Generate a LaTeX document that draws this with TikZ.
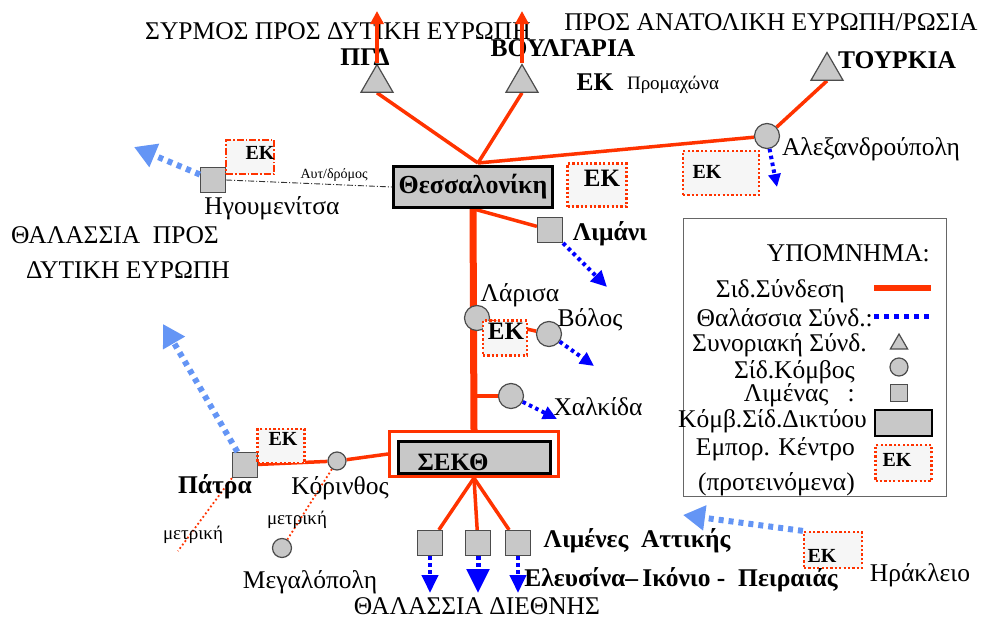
\documentclass[tikz,border=0pt]{standalone}
\usepackage{fontspec}
\setmainfont{Liberation Serif}
\usetikzlibrary{shapes.geometric}
\usetikzlibrary{arrows.meta}
\usetikzlibrary{backgrounds}
\definecolor{rail}{RGB}{255,51,0}
\definecolor{sea}{RGB}{0,0,255}
\definecolor{farsea}{RGB}{100,149,245}
\definecolor{nodegray}{RGB}{200,200,200}
\definecolor{ekfill}{RGB}{246,246,246}

\begin{document}
\begin{tikzpicture}[x=1pt, y=-1pt,
    lbl/.style={font=\fontsize{25.5}{29}\selectfont, inner sep=0pt},
    blbl/.style={font=\fontsize{25.5}{29}\selectfont\bfseries, inner sep=0pt},
    small/.style={font=\fontsize{19}{22}\selectfont, inner sep=0pt},
    ektxt/.style={font=\fontsize{20}{23}\selectfont\bfseries, inner sep=0pt},
    station/.style={draw=black!70, fill=nodegray, circle, minimum size=25pt, inner sep=0pt, line width=1.2pt},
    port/.style={draw=black!70, fill=nodegray, rectangle, minimum size=25pt, inner sep=0pt, line width=1.2pt},
    border/.style={draw=black!70, fill=nodegray, regular polygon, regular polygon sides=3, minimum size=37pt, inner sep=0pt, line width=1.2pt},
    ekbox/.style={draw=rail, fill=ekfill, line width=2.2pt, dash pattern=on 2.2pt off 2.2pt, inner sep=0pt},
    railway/.style={draw=rail, line width=3.5pt},
    trunk/.style={draw=rail, line width=7pt},
    railup/.style={draw=rail, line width=3.5pt, -{Triangle[length=13pt, width=13pt]}},
    seaway/.style={draw=sea, line width=4pt, dash pattern=on 3.5pt off 3.5pt, -{Triangle[length=16pt, width=15pt]}},
    farway/.style={draw=farsea, line width=6pt, dash pattern=on 5pt off 5pt, -{Triangle[length=22pt, width=24pt]}},
    metric/.style={draw=rail, line width=1.8pt, dash pattern=on 1.8pt off 2.5pt},
    motorway/.style={draw=black!80, line width=0.9pt, dash pattern=on 6pt off 2pt on 1pt off 2pt}]

\useasboundingbox (0,0) rectangle (983,621);

% headings
\node[lbl] (west) at (338,31) {ΣΥΡΜΟΣ ΠΡΟΣ ΔΥΤΙΚΗ ΕΥΡΩΠΗ};
\node[lbl] (east) at (771,22) {ΠΡΟΣ ΑΝΑΤΟΛΙΚΗ ΕΥΡΩΠΗ/ΡΩΣΙΑ};
\node[lbl] (seawest1) at (115,235) {ΘΑΛΑΣΣΙΑ\ \ ΠΡΟΣ};
\node[lbl] (seawest2) at (128,270) {ΔΥΤΙΚΗ ΕΥΡΩΠΗ};
\node[lbl] (seaint) at (477,606) {ΘΑΛΑΣΣΙΑ ΔΙΕΘΝΗΣ};

% border crossings
\node[border] (pgd) at (377,83) {};
\node[border] (boul) at (522,83) {};
\node[border] (turk) at (827,71) {};
\coordinate (pgdup) at (377,11);
\coordinate (boulup) at (522,11);
\node[blbl] (pgdlbl) at (365,57) {ΠΓΔ};
\node[blbl] (boullbl) at (563,48) {ΒΟΥΛΓΑΡΙΑ};
\node[blbl] (turklbl) at (897,60) {ΤΟΥΡΚΙΑ};
\node[blbl] (promek) at (595,82) {ΕΚ};
\node[small] (promlbl) at (673,85) {Προμαχώνα};

% Thessaloniki
\node[draw, line width=2.5pt, fill=nodegray, minimum width=159pt, minimum height=41pt, inner sep=0pt,
      font=\fontsize{26}{29}\selectfont\bfseries] (thess) at (473,187) {Θεσσαλονίκη};
\coordinate (hub) at (478,163);
\node[ekbox, minimum width=59pt, minimum height=43pt] (ekthess) at (597,185) {};
\node[font=\fontsize{25}{28}\selectfont\bfseries, inner sep=0pt] (ekthesstxt) at (602,178) {ΕΚ};

\node[station] (alex) at (767,136) {};
\node[lbl] (alexlbl) at (871,149) {Αλεξανδρούπολη};
\node[ekbox, minimum width=76pt, minimum height=44pt] (ekalex) at (721,173) {};
\node[ektxt] (ekalextxt) at (707,172) {ΕΚ};
\coordinate (alexsea) at (777,187);

\node[port] (igoum) at (213,180) {};
\node[lbl] (igoumlbl) at (272,208) {Ηγουμενίτσα};
\node[ekbox, dash pattern=on 7pt off 2pt on 1.5pt off 2pt, minimum width=48pt, minimum height=34pt] (ekigoum) at (250,157) {};
\node[ektxt] (ekigoumtxt) at (260,153) {ΕΚ};
\coordinate (igoumsea) at (134,147);

\node[port] (limani) at (550,230) {};
\node[blbl] (limanilbl) at (610,234) {Λιμάνι};
\coordinate (limanisea) at (607,287);

% central axis
\node[station] (larisa) at (477,318) {};
\node[lbl] (larisalbl) at (520,295) {Λάρισα};
\node[ekbox, minimum width=44pt, minimum height=35pt] (eklarisa) at (505,338) {};
\node[font=\fontsize{25}{28}\selectfont\bfseries, inner sep=0pt] (eklarisatxt) at (506,331) {ΕΚ};
\node[station] (volos) at (549,334) {};
\node[lbl] (voloslbl) at (590,320) {Βόλος};
\coordinate (volossea) at (594,366);
\node[station] (chalk) at (511,396) {};
\node[lbl] (chalklbl) at (598,407) {Χαλκίδα};
\coordinate (chalksea) at (557,419);

\node[draw=rail, line width=3pt, minimum width=169pt, minimum height=45pt, inner sep=0pt] (seko) at (474,454) {};
\node[draw, line width=3pt, fill=nodegray, minimum width=152pt, minimum height=32pt, inner sep=0pt] (sekoin) at (474.5,457.5) {};
\node[font=\fontsize{25}{29}\selectfont\bfseries, inner sep=0pt] (sekotxt) at (453,462) {ΣΕΚΘ};

% Peloponnese
\node[station, minimum size=18pt] (korinthos) at (337,461) {};
\node[lbl] (korinthoslbl) at (340,488) {Κόρινθος};
\node[port] (patra) at (245,465) {};
\node[blbl] (patralbl) at (215,487) {Πάτρα};
\node[ekbox, minimum width=47pt, minimum height=34pt] (ekpatra) at (281,446) {};
\node[ektxt] (ekpatratxt) at (283,439) {ΕΚ};
\coordinate (patrasea) at (163,324);
\coordinate (patrametric) at (178,551);
\node[station, minimum size=19pt] (megalo) at (282,548) {};
\node[lbl] (megalolbl) at (310,582) {Μεγαλόπολη};

% Attica ports
\node[port] (att1) at (430,543) {};
\node[port] (att2) at (478,543) {};
\node[port] (att3) at (518,543) {};
\coordinate (att1sea) at (430,593);
\coordinate (att2sea) at (478,593);
\coordinate (att3sea) at (518,593);
\node[blbl] (attlbl) at (637,541) {Λιμένες\ \ Αττικής};
\node[blbl] (attnames) at (681,580) {Ελευσίνα–\,Ικόνιο -\ \ Πειραιάς};

% Crete
\node[ekbox, minimum width=58pt, minimum height=36pt] (ekirak) at (833,550) {};
\node[ektxt] (ekiraktxt) at (822,556) {ΕΚ};
\node[lbl] (iraklbl) at (920,575) {Ηράκλειο};
\coordinate (iraksea) at (683,515);

% legend
\node[draw=black!60, line width=1.2pt, minimum width=263pt, minimum height=278pt, inner sep=0pt] (legend) at (815,357.5) {};
\node[lbl, anchor=east] (lgtitle) at (930,253) {ΥΠΟΜΝΗΜΑ:};
\node[lbl, anchor=east] (lgrailtxt) at (845,291) {Σιδ.Σύνδεση};
\node[lbl, anchor=east] (lgseatxt) at (873,318) {Θαλάσσια Σύνδ.:};
\node[lbl, anchor=east] (lgbordertxt) at (867,345) {Συνοριακή Σύνδ.};
\node[lbl, anchor=east] (lgstationtxt) at (855,372) {Σίδ.Κόμβος};
\node[lbl, anchor=east] (lgporttxt) at (855,395) {Λιμένας\ \ \ :};
\node[lbl, anchor=east] (lghubtxt) at (867,421) {Κόμβ.Σίδ.Δικτύου};
\node[lbl, anchor=east] (lgektxt) at (855,449) {Εμπορ. Κέντρο};
\node[lbl, anchor=east] (lgek2txt) at (855,484) {(προτεινόμενα)};
\coordinate (lgrail1) at (874,288);
\coordinate (lgrail2) at (931,288);
\coordinate (lgsea1) at (874,316);
\coordinate (lgsea2) at (931,316);
\node[border, minimum size=20pt] (lgborder) at (899,344) {};
\node[station, minimum size=18pt] (lgstation) at (899,367) {};
\node[port, minimum size=17pt] (lgport) at (899,393) {};
\node[draw, line width=2.5pt, fill=nodegray, minimum width=57pt, minimum height=26pt, inner sep=0pt] (lghub) at (903.5,423) {};
\node[ekbox, minimum width=56pt, minimum height=36pt] (lgek) at (903.5,463) {};
\node[ektxt] (lgektxt2) at (897,460) {ΕΚ};

\begin{scope}[on background layer]
  \draw[railway] (hub) -- (pgd.south);
  \draw[railway] (hub) -- (boul.south);
  \draw[railway] (hub) -- (alex);
  \draw[railway] (alex) -- (turk.south);
  \draw[trunk] (thess.south) -- (seko.north);
  \draw[railway] (thess.south) -- (limani);
  \draw[railway] (larisa) -- (volos);
  \draw[railway] (chalk) -- (chalk -| thess.south);
  \draw[railway] (seko.west) -- (korinthos) -- (patra);
  \draw[railway] (seko.south) -- (att1);
  \draw[railway] (seko.south) -- (att2);
  \draw[railway] (seko.south) -- (att3);
  \draw[metric] (patra.south west) -- (patrametric);
  \draw[metric] (korinthos) -- (megalo);
\end{scope}

\draw[railup] (pgd.north) -- (pgdup);
\draw[railup] (boul.north) -- (boulup);
\draw[motorway] (igoum.east) -- node[pos=0.65, above=3pt, font=\fontsize{14}{16}\selectfont, inner sep=0pt] (motorlbl) {Αυτ/δρόμος} (thess.west);

\draw[seaway] (limani) -- (limanisea);
\draw[seaway, -{Triangle[length=14pt, width=13pt]}] (volos) -- (volossea);
\draw[seaway, -{Triangle[length=14pt, width=13pt]}] (chalk) -- (chalksea);
\draw[seaway, -{Triangle[length=13pt, width=12pt]}] (alex) -- (alexsea);
\draw[seaway, -{Triangle[length=18pt, width=16pt]}] (att1) -- (att1sea);
\draw[seaway, line width=5pt, -{Triangle[length=24pt, width=22pt]}] (att2) -- (att2sea);
\draw[seaway, -{Triangle[length=18pt, width=16pt]}] (att3) -- (att3sea);

\draw[farway] (igoum) -- (igoumsea);
\draw[farway] (patra) -- (patrasea);
\draw[farway] (ekirak.north west) -- (iraksea);

\node[small] (metriclbl1) at (193,535) {μετρική};
\node[small] (metriclbl2) at (297,520) {μετρική};

\draw[rail, line width=6pt] (lgrail1) -- (lgrail2);
\draw[sea, line width=5pt, dash pattern=on 5pt off 5pt] (lgsea1) -- (lgsea2);
\end{tikzpicture}
\end{document}
